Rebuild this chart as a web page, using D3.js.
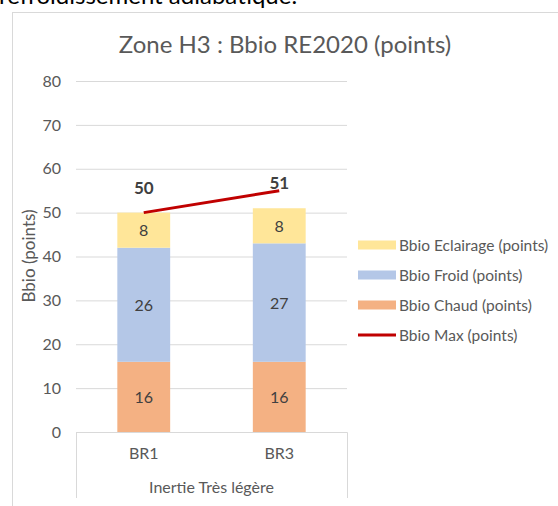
<!DOCTYPE html>
<html>
<head>
<meta charset="utf-8">
<script src="https://cdn.jsdelivr.net/npm/d3@7"></script>
<style>
  body { margin: 0; background: #fff; }
  svg { display: block; font-family: Lato, "Liberation Sans", sans-serif; }
</style>
</head>
<body>
<svg id="chart"></svg>
<script>
// data
var categories = ["BR1", "BR3"];
var groupLabel = "Inertie Très légère";
var chaud = [16, 16];
var froid = [26, 27];
var eclairage = [8, 8];
var bbioMax = [50, 55];
var yTicks = [0, 10, 20, 30, 40, 50, 60, 70, 80];
var seriesNames = ["Bbio Chaud (points)", "Bbio Froid (points)", "Bbio Eclairage (points)"];
var seriesColors = ["#F4B183", "#B4C7E7", "#FFE699"];
var lineName = "Bbio Max (points)";
var lineColor = "#C00000";

var W = 558, H = 506;
var plot = {left: 76, right: 347, top: 81, bottom: 432};

var svg = d3.select("#chart").attr("width", W).attr("height", H);

// text cut off at top of the page (from the surrounding document)
svg.append("text")
    .attr("x", -1)
    .attr("y", 4)
    .style("font-size", "24px")
    .style("fill", "#000")
    .text("refroidissement adiabatique.");

// chart frame
svg.append("rect")
    .attr("x", 12.5).attr("y", 12.5)
    .attr("width", 700).attr("height", 700)
    .attr("fill", "#fff")
    .attr("stroke", "#d9d9d9");

svg.append("text")
    .attr("x", 285)
    .attr("y", 53)
    .attr("text-anchor", "middle")
    .style("font-size", "24px")
    .style("fill", "#595959")
    .text("Zone H3 : Bbio RE2020 (points)");

var x = d3.scaleBand()
    .domain(categories)
    .range([plot.left, plot.right])
    .padding(0);

var y = d3.scaleLinear()
    .domain([0, 80])
    .range([plot.bottom, plot.top]);

// gridlines + y labels
var yAxis = d3.axisLeft(y)
    .tickValues(yTicks)
    .tickSize(-(plot.right - plot.left))
    .tickPadding(15);
var gy = svg.append("g")
    .attr("transform", "translate(" + plot.left + ",0)")
    .call(yAxis);
gy.select(".domain").remove();
gy.selectAll(".tick line").attr("stroke", "#d9d9d9");
gy.selectAll(".tick text")
    .style("font-size", "16px")
    .style("font-family", "Lato, sans-serif")
    .attr("fill", "#595959");

svg.append("text")
    .attr("transform", "translate(35,256) rotate(-90)")
    .attr("text-anchor", "middle")
    .style("font-size", "17px")
    .style("fill", "#595959")
    .text("Bbio (points)");

// stacked bars
var rows = categories.map(function (c, i) {
    return {cat: c, chaud: chaud[i], froid: froid[i], eclairage: eclairage[i]};
});
var stack = d3.stack().keys(["chaud", "froid", "eclairage"])(rows);
var barW = x.bandwidth() * 0.39;

var layers = svg.selectAll(".layer")
    .data(stack)
    .enter()
    .append("g")
    .attr("class", "layer")
    .attr("fill", function (d, i) { return seriesColors[i]; });

layers.selectAll("rect")
    .data(function (d) { return d; })
    .enter()
    .append("rect")
    .attr("x", function (d) { return x(d.data.cat) + (x.bandwidth() - barW) / 2; })
    .attr("y", function (d) { return y(d[1]); })
    .attr("width", barW)
    .attr("height", function (d) { return y(d[0]) - y(d[1]); });

layers.selectAll("text")
    .data(function (d) { return d; })
    .enter()
    .append("text")
    .attr("x", function (d) { return x(d.data.cat) + x.bandwidth() / 2; })
    .attr("y", function (d) { return (y(d[0]) + y(d[1])) / 2 + 6; })
    .attr("text-anchor", "middle")
    .style("font-size", "16px")
    .style("fill", "#404040")
    .text(function (d) { return d[1] - d[0]; });

// Bbio Max line
var line = d3.line()
    .x(function (d, i) { return x(categories[i]) + x.bandwidth() / 2; })
    .y(function (d) { return y(d); });
svg.append("path")
    .datum(bbioMax)
    .attr("d", line)
    .attr("fill", "none")
    .attr("stroke", lineColor)
    .attr("stroke-width", 3);

// totals above bars
svg.selectAll(".total")
    .data(rows)
    .enter()
    .append("text")
    .attr("class", "total")
    .attr("x", function (d) { return x(d.cat) + x.bandwidth() / 2; })
    .attr("y", function (d) { return y(d.chaud + d.froid + d.eclairage) - 19; })
    .attr("text-anchor", "middle")
    .style("font-size", "17px")
    .style("font-weight", "bold")
    .style("fill", "#404040")
    .text(function (d) { return d.chaud + d.froid + d.eclairage; });

// category axis box
var gx = svg.append("g")
    .attr("transform", "translate(0," + plot.bottom + ")")
    .call(d3.axisBottom(x).tickSize(0).tickPadding(16));
gx.select(".domain").remove();
gx.selectAll(".tick text")
    .style("font-size", "16px")
    .style("font-family", "Lato, sans-serif")
    .attr("fill", "#595959");

svg.append("path")
    .attr("d", "M" + (plot.left + 0.5) + ",498V" + (plot.bottom + 0.5) + "H" + (plot.right + 0.5) + "V498")
    .attr("fill", "none")
    .attr("stroke", "#d9d9d9");

svg.append("text")
    .attr("x", (plot.left + plot.right) / 2)
    .attr("y", 493)
    .attr("text-anchor", "middle")
    .style("font-size", "16px")
    .style("fill", "#595959")
    .text(groupLabel);

// legend
var legendItems = [
    {name: seriesNames[2], color: seriesColors[2], type: "rect"},
    {name: seriesNames[1], color: seriesColors[1], type: "rect"},
    {name: seriesNames[0], color: seriesColors[0], type: "rect"},
    {name: lineName, color: lineColor, type: "line"}
];
var legend = svg.selectAll(".legend")
    .data(legendItems)
    .enter()
    .append("g")
    .attr("class", "legend")
    .attr("transform", function (d, i) { return "translate(358," + (245 + i * 30) + ")"; });

legend.each(function (d) {
    var g = d3.select(this);
    if (d.type === "rect") {
        g.append("rect").attr("x", 0).attr("y", -4.5).attr("width", 38).attr("height", 9).attr("fill", d.color);
    } else {
        g.append("line").attr("x1", 0).attr("x2", 38).attr("y1", 0).attr("y2", 0)
            .attr("stroke", d.color).attr("stroke-width", 3);
    }
});
legend.append("text")
    .attr("x", 41)
    .attr("y", 6)
    .style("font-size", "15.5px")
    .style("fill", "#595959")
    .text(function (d) { return d.name; });
</script>
</body>
</html>
